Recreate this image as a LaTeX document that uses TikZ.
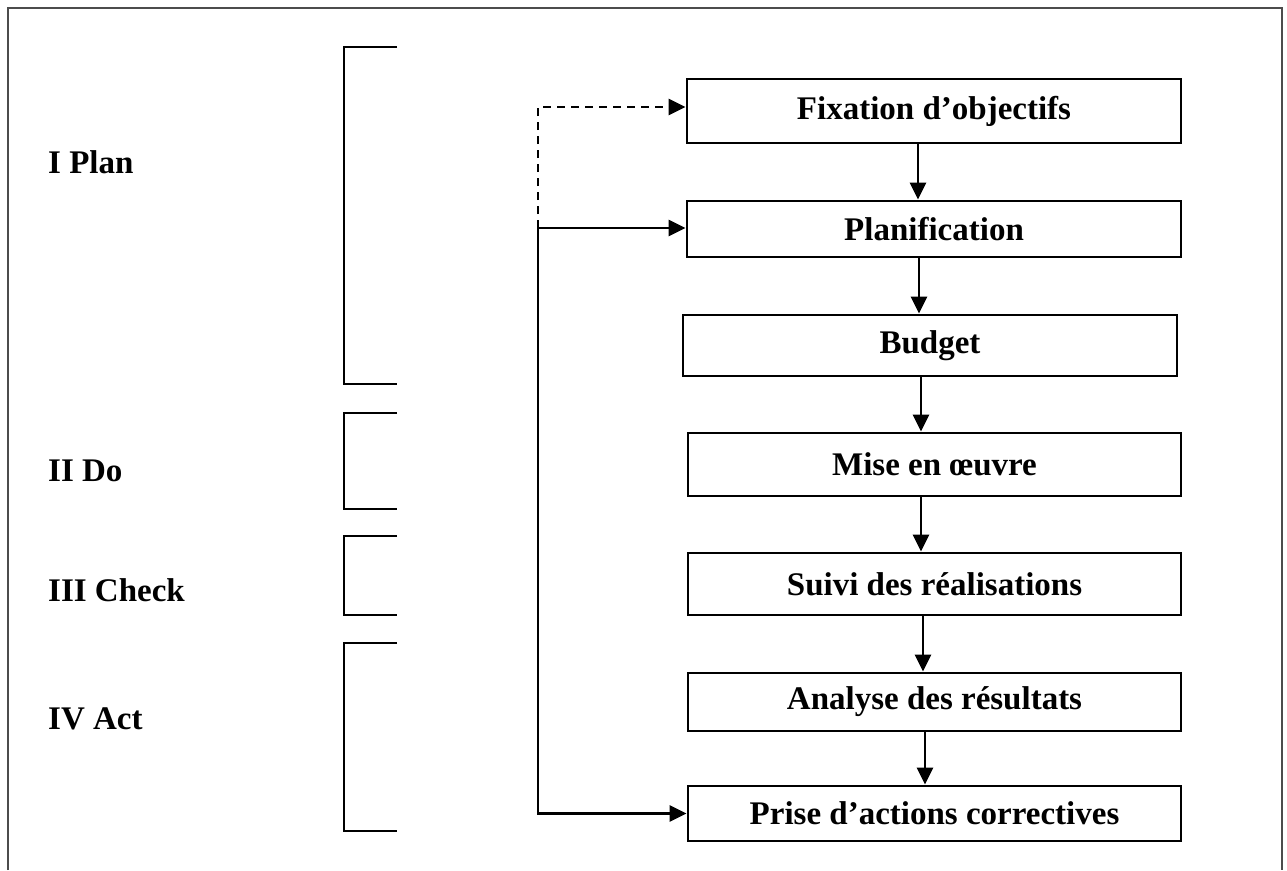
\documentclass[tikz,border=0pt]{standalone}
\usepackage{fontspec}
\setmainfont{Liberation Serif}
\usetikzlibrary{arrows.meta}
\begin{document}
\begin{tikzpicture}[x=1pt,y=-1pt,
  every node/.style={font=\fontsize{33}{38}\selectfont\bfseries},
  stepbox/.style={draw,line width=2.8pt,rectangle,inner sep=0pt,minimum width=494pt},
  flow/.style={line width=2.8pt,-{Triangle[length=17pt,width=16pt]}},
  bracket/.style={line width=2.6pt},
  frame/.style={line width=2pt,draw=black!70}]
\useasboundingbox (0,0) rectangle (1287,870);

% outer frame, open at the bottom
\draw[frame] (8,870) -- (8,8) -- (1282,8) -- (1282,870);

% phase brackets
\draw[bracket] (397,47) -| (344,384) -- (397,384);
\draw[bracket] (397,413) -| (344,509) -- (397,509);
\draw[bracket] (397,536) -| (344,615) -- (397,615);
\draw[bracket] (397,643) -| (344,831) -- (397,831);

% phase labels
\node[anchor=base west,inner sep=0pt] (lplan)  at (48,173) {I Plan};
\node[anchor=base west,inner sep=0pt] (ldo)    at (48,481) {II Do};
\node[anchor=base west,inner sep=0pt] (lcheck) at (48,601) {III Check};
\node[anchor=base west,inner sep=0pt] (lact)   at (48,729) {IV Act};

% process steps
\node[stepbox,minimum height=64pt] (fix)  at (934,111)   {Fixation d’objectifs};
\node[stepbox,minimum height=56pt] (plan) at (934,229)   {Planification};
\node[stepbox,minimum height=61pt] (bud)  at (930,345.5) {Budget};
\node[stepbox,minimum width=493pt,minimum height=63pt] (mise) at (934.5,464.5) {Mise en œuvre};
\node[stepbox,minimum width=493pt,minimum height=62pt] (suiv) at (934.5,584)   {Suivi des réalisations};
\node[stepbox,minimum width=493pt,minimum height=58pt] (ana)  at (934.5,702)   {Analyse des résultats};
\node[stepbox,minimum width=493pt,minimum height=55pt] (prise) at (934.5,813.5) {Prise d’actions correctives};

% main sequence
\draw[flow] (fix.south -| 918,0)  -- (plan.north -| 918,0);
\draw[flow] (plan.south -| 919,0) -- (bud.north -| 919,0);
\draw[flow] (bud.south -| 921,0)  -- (mise.north -| 921,0);
\draw[flow] (mise.south -| 921,0) -- (suiv.north -| 921,0);
\draw[flow] (suiv.south -| 923,0) -- (ana.north -| 923,0);
\draw[flow] (ana.south -| 925,0)  -- (prise.north -| 925,0);

% feedback loop
\coordinate (loop) at (538,228);
\draw[flow] (loop) -- (plan.west |- loop);
\draw[flow] (loop) |- (prise.west);
\draw[flow,dash pattern=on 8pt off 6pt] (loop) |- ([yshift=4pt]fix.west);
\end{tikzpicture}
\end{document}
